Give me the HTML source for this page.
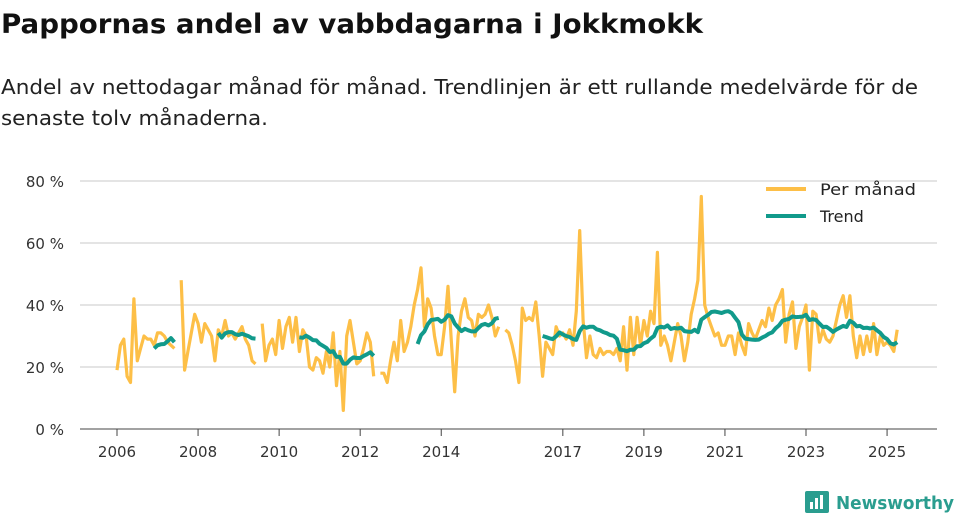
<!DOCTYPE html>
<html><head><meta charset="utf-8"><style>
html,body{margin:0;padding:0;background:#fff;width:960px;height:520px;overflow:hidden}
svg{display:block;font-family:"DejaVu Sans","Liberation Sans",sans-serif}
</style></head><body>
<svg id="chart" width="960" height="520">
<text x="1" y="33" font-size="27" font-weight="bold" fill="#111" textLength="702" lengthAdjust="spacingAndGlyphs">Pappornas andel av vabbdagarna i Jokkmokk</text>
<text x="1" y="94" font-size="20" fill="#222" textLength="917" lengthAdjust="spacingAndGlyphs">Andel av nettodagar månad för månad. Trendlinjen är ett rullande medelvärde för de</text>
<text x="1" y="125" font-size="20" fill="#222" textLength="267" lengthAdjust="spacingAndGlyphs">senaste tolv månaderna.</text>
<g id="grid"></g><g id="axes"></g><g id="series"></g>
<g>
<line x1="766" y1="189" x2="806" y2="189" stroke="#fdbf47" stroke-width="4"/>
<text x="820" y="195" font-size="16" fill="#222" textLength="96" lengthAdjust="spacingAndGlyphs">Per månad</text>
<line x1="766" y1="216" x2="806" y2="216" stroke="#119a8b" stroke-width="4"/>
<text x="820" y="222" font-size="16" fill="#222">Trend</text>
</g>
<g>
<rect x="805" y="491" width="24" height="22" rx="2" fill="#2a9d8f"/>
<rect x="810" y="502" width="3" height="7" fill="#fff"/><rect x="815" y="498" width="3" height="11" fill="#fff"/><rect x="820" y="495" width="3" height="14" fill="#fff"/>
<text x="836" y="509" font-size="18" font-weight="bold" fill="#2a9d8f" textLength="118" lengthAdjust="spacingAndGlyphs">Newsworthy</text>
</g>
</svg>
<script>
const startYear = 2006;
const monthly = [
19,27,29,17,15,42,22,26,30,29,29,27,
31,31,30,28,27,26,null,48,19,25,31,37,
34,28,34,32,30,22,32,30,35,30,31,29,
31,33,29,27,22,21,null,34,22,27,29,24,
35,26,33,36,28,36,25,32,30,20,19,23,
22,18,25,20,31,14,25,6,30,35,28,21,
22,26,31,28,17,null,18,18,15,22,28,22,
35,25,28,33,40,45,52,33,42,39,30,24,
24,33,46,28,12,30,38,42,36,35,30,37,
36,37,40,36,30,33,null,32,31,27,22,15,
39,35,36,35,41,30,17,28,26,24,33,30,
31,29,32,27,38,64,35,23,30,24,23,26,
24,25,25,24,26,22,33,19,36,24,36,27,
35,30,38,34,57,27,30,27,22,28,34,30,
22,28,37,42,48,75,40,36,33,30,31,27,
27,30,30,24,31,27,24,34,31,29,32,35,
33,39,35,40,42,45,28,37,41,26,33,36,
40,19,38,37,28,32,29,28,30,35,40,43,
36,43,30,23,30,24,30,25,34,24,30,27,
28,27,25,32
];
const yTicks = [0,20,40,60,80];
const yTickLabels = ["0 %","20 %","40 %","60 %","80 %"];
const xTicks = [2006,2008,2010,2012,2014,2017,2019,2021,2023,2025];

const NS = "http://www.w3.org/2000/svg";
const x = t => 117 + (t - 2006) * 40.53;
const y = v => 429 - v * 3.1;
function mk(tag, attrs, parent){const e=document.createElementNS(NS,tag);for(const k in attrs)e.setAttribute(k,attrs[k]);parent.appendChild(e);return e;}
const grid=document.getElementById('grid'), axes=document.getElementById('axes'), series=document.getElementById('series');

yTicks.forEach((v,i)=>{
  if(v>0){const l=mk('line',{x1:80,x2:937,y1:y(v),y2:y(v),stroke:'#dcdcdc','stroke-width':1.5},grid);
  
  }
  const t=mk('text',{x:64,y:y(v)+6,'font-size':15,fill:'#333','text-anchor':'end'},axes);
  t.textContent=yTickLabels[i];
  
  
});
const base=mk('line',{x1:80,x2:937,y1:429,y2:429,stroke:'#444','stroke-width':1},axes);


xTicks.forEach(yr=>{
  const tk=mk('line',{x1:x(yr),x2:x(yr),y1:429,y2:436,stroke:'#444','stroke-width':1},axes);
  
  
  const t=mk('text',{x:x(yr),y:457,'font-size':15,fill:'#333','text-anchor':'middle'},axes);
  t.textContent=yr;
  
  
});

function segPath(vals){
  let d='',pen=false;
  vals.forEach((v,i)=>{
    if(v==null){pen=false;return;}
    const px=x(startYear+i/12).toFixed(1), py=y(v).toFixed(1);
    d+=(pen?'L':'M')+px+' '+py; pen=true;
  });
  return d;
}
const trend = monthly.map((v,i)=>{
  if(i<11) return null;
  let s=0;
  for(let j=i-11;j<=i;j++){ if(monthly[j]==null) return null; s+=monthly[j]; }
  return s/12;
});
const pm=mk('path',{d:segPath(monthly),fill:'none',stroke:'#fdbf47','stroke-width':3.2,'stroke-linejoin':'round'},series);


const pt=mk('path',{d:segPath(trend),fill:'none',stroke:'#119a8b','stroke-width':4,'stroke-linejoin':'round'},series);


</script>
</body></html>
